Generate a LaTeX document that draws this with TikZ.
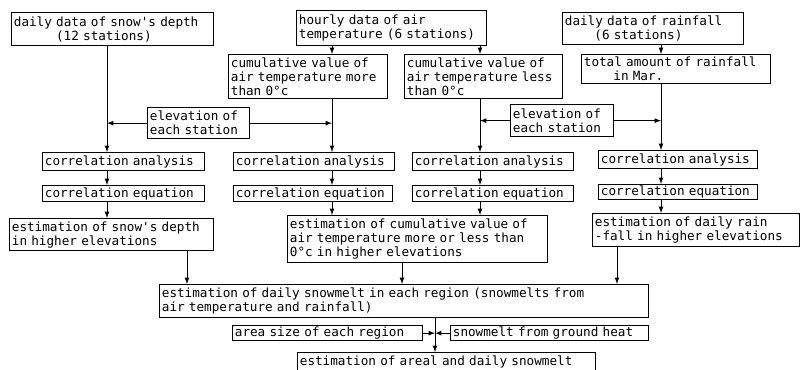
\documentclass[tikz,border=0pt]{standalone}
\usepackage{fontspec}
\setmonofont{DejaVu Sans Mono}
\usepackage{tikz}

\begin{document}
\begin{tikzpicture}[x=0.025cm,y=-0.025cm,>=latex,
    box/.style 2 args={draw,line width=.9pt,anchor=north west,inner xsep=1.5pt,inner ysep=0pt,
      align=left,text width={(#1-4.5)*0.025cm},minimum width={#1*0.025cm},
      minimum height={#2*0.025cm},font=\ttfamily\fontsize{9pt}{10pt}\selectfont},
    link/.style={->,line width=.6pt}]
    \useasboundingbox (0,0) rectangle (802,369);

    \coordinate (xa) at (107,0);
    \coordinate (xb) at (332,0);
    \coordinate (xc) at (480,0);
    \coordinate (xd) at (661,0);
    \coordinate (xs) at (187,0);
    \coordinate (xt) at (402,0);
    \coordinate (xr) at (617,0);
    \coordinate (xm) at (435,0);

    % data
    \node[box={202}{33}] (snow) at (11,12) {daily data of snow's depth\\~~~~~~~~~~(12 stations)};
    \node[box={190}{35}] (temp) at (296,10) {hourly data of air\\temperature (6 stations)};
    \node[box={181}{32}] (rain) at (562,12) {daily data of rainfall\\~~~~~~~(6 stations)};

    \node[box={159}{44}] (cmore) at (228,54) {cumulative value of\\air temperature more\\than 0°c};
    \node[box={158}{44}] (cless) at (404,54) {cumulative value of\\air temperature less\\than 0°c};
    \node[box={189}{29}] (train) at (581,54) {total amount of rainfall\\~~~~~~~in Mar.};

    \node[box={102}{31}] (elev1) at (147,107) {elevation of\\each station};
    \node[box={103}{32}] (elev2) at (510,104) {elevation of\\each station};

    % correlation
    \node[box={162}{18}] (ca) at (42,152) {correlation analysis};
    \node[box={161}{18}] (cb) at (233,152) {correlation analysis};
    \node[box={161}{18}] (cc) at (412,152) {correlation analysis};
    \node[box={159}{18}] (cd) at (598,150) {correlation analysis};

    \node[box={162}{16}] (qa) at (42,185) {correlation equation};
    \node[box={159}{16}] (qb) at (233,185) {correlation equation};
    \node[box={161}{16}] (qc) at (412,185) {correlation equation};
    \node[box={159}{15}] (qd) at (598,184) {correlation equation};

    % estimation
    \node[box={204}{32}] (esnow) at (9,218) {estimation of snow's depth\\in higher elevations};
    \node[box={260}{47}] (etemp) at (287,215) {estimation of cumulative value of\\air temperature more or less than\\0°c in higher elevations};
    \node[box={207}{33}] (erain) at (592,213) {estimation of daily rain\\-fall in higher elevations};

    \node[box={489}{33}] (melt) at (159,284) {estimation of daily snowmelt in each region (snowmelts from\\air temperature and rainfall)};
    \node[box={190}{15}] (area) at (232,325) {area size of each region};
    \node[box={198}{15}] (heat) at (450,325) {snowmelt from ground heat};
    \node[box={298}{18}] (total) at (297,352) {estimation of areal and daily snowmelt};

    % snow
    \draw[link] (snow.south -| xa) -- (ca.north -| xa);
    \draw[link] (ca.south -| xa) -- (qa.north -| xa);
    \draw[link] (qa.south -| xa) -- (esnow.north -| xa);
    \draw[link] (elev1.west) -- (elev1.west -| xa);
    \draw[link] (elev1.east) -- (elev1.east -| xb);

    % air temperature
    \draw[link] (temp.south -| xb) -- (cmore.north -| xb);
    \draw[link] (temp.south -| xc) -- (cless.north -| xc);
    \draw[link] (cmore.south -| xb) -- (cb.north -| xb);
    \draw[link] (cless.south -| xc) -- (cc.north -| xc);
    \draw[link] (cb.south -| xb) -- (qb.north -| xb);
    \draw[link] (cc.south -| xc) -- (qc.north -| xc);
    \draw[link] (qb.south -| xb) -- (etemp.north -| xb);
    \draw[link] (qc.south -| xc) -- (etemp.north -| xc);
    \draw[link] (elev2.west) -- (elev2.west -| xc);
    \draw[link] (elev2.east) -- (elev2.east -| xd);

    % rainfall
    \draw[link] (rain.south -| xd) -- (train.north -| xd);
    \draw[link] (train.south -| xd) -- (cd.north -| xd);
    \draw[link] (cd.south -| xd) -- (qd.north -| xd);
    \draw[link] (qd.south -| xd) -- (erain.north -| xd);

    % snowmelt
    \draw[link] (esnow.south -| xs) -- (melt.north -| xs);
    \draw[link] (etemp.south -| xt) -- (melt.north -| xt);
    \draw[link] (erain.south -| xr) -- (melt.north -| xr);
    \draw[link] (melt.south -| xm) -- (total.north -| xm);
    \draw[link] (area.east) -- (area.east -| xm);
    \draw[link] (heat.west) -- (heat.west -| xm);
\end{tikzpicture}
\end{document}
